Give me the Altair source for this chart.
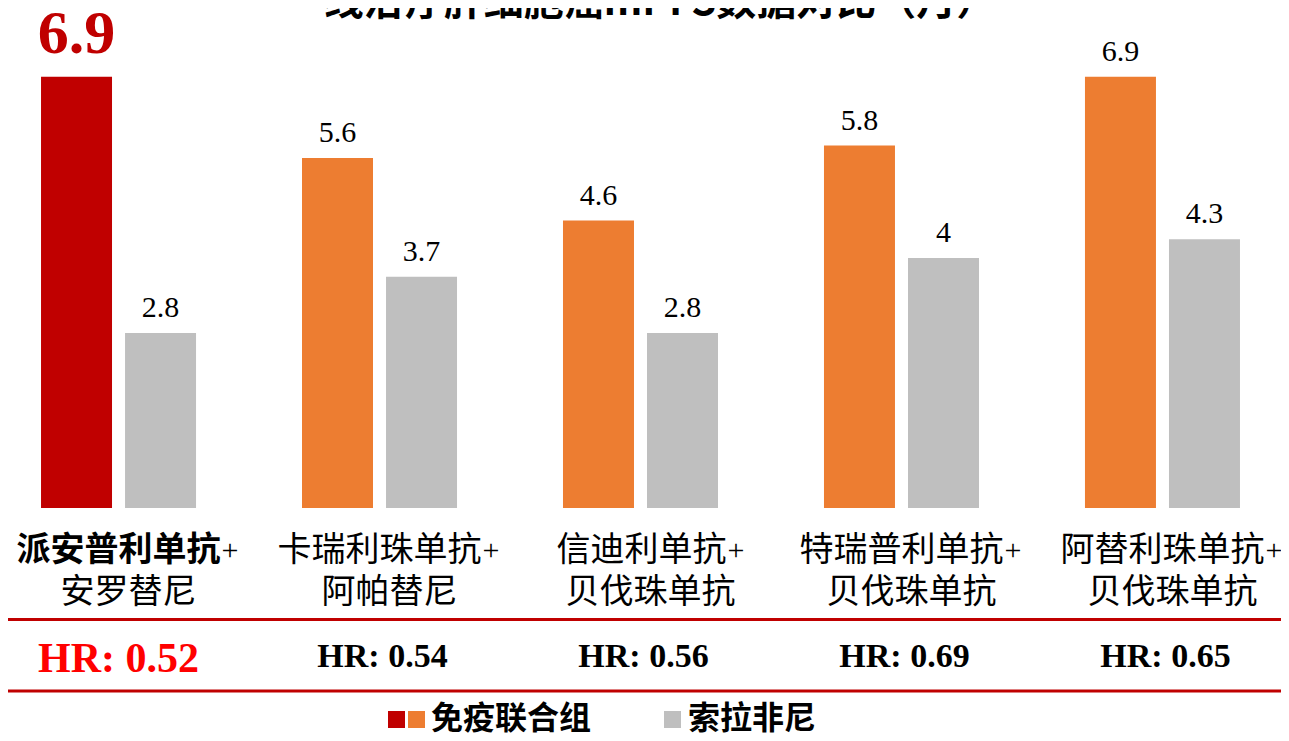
import altair as alt
import pandas as pd

# ---- data ----
groups = ["派安普利单抗+安罗替尼", "卡瑞利珠单抗+阿帕替尼", "信迪利单抗+贝伐珠单抗",
          "特瑞普利单抗+贝伐珠单抗", "阿替利珠单抗+贝伐珠单抗"]
label_line1 = ["派安普利单抗", "卡瑞利珠单抗", "信迪利单抗", "特瑞普利单抗", "阿替利珠单抗"]
label_joiner = "+"
label_line2 = ["安罗替尼", "阿帕替尼", "贝伐珠单抗", "贝伐珠单抗", "贝伐珠单抗"]
immune_pfs = [6.9, 5.6, 4.6, 5.8, 6.9]
sorafenib_pfs = [2.8, 3.7, 2.8, 4.0, 4.3]
hr_values = ["0.52", "0.54", "0.56", "0.69", "0.65"]
highlight = [True, False, False, False, False]
series_names = ["免疫联合组", "索拉非尼"]
title_text = "一线治疗肝细胞癌mPFS数据对比（月）"

RED = "#C00000"
ORANGE = "#ED7D31"
GRAY = "#BFBFBF"
CJK = "Noto Sans CJK SC"
SERIF = "Liberation Serif"

rows = []
for g, v1, v2, h in zip(groups, immune_pfs, sorafenib_pfs, highlight):
    rows.append(dict(group=g, series=series_names[0], value=v1,
                     color=RED if h else ORANGE, label=f"{v1:g}", hl=h))
    rows.append(dict(group=g, series=series_names[1], value=v2,
                     color=GRAY, label=f"{v2:g}", hl=False))
bars_df = pd.DataFrame(rows)

cat_df = pd.DataFrame(dict(group=groups, l1=label_line1, l2=label_line2,
                           plus=[label_joiner] * len(groups),
                           hr=["HR: " + h for h in hr_values], hl=highlight))
one = pd.DataFrame({"k": [0]})

x_enc = alt.X("group:N", sort=groups, axis=None,
              scale=alt.Scale(paddingInner=0.153, paddingOuter=0))
xoff = alt.XOffset("series:N", sort=series_names,
                   scale=alt.Scale(paddingInner=0.155, paddingOuter=0.393))
y_enc = alt.Y("value:Q", axis=None, scale=alt.Scale(domain=[0, 8]))

bars = alt.Chart(bars_df).mark_bar().encode(
    x=x_enc, xOffset=xoff, y=y_enc, color=alt.Color("color:N", scale=None))

labels = alt.Chart(bars_df).transform_filter("!datum.hl").mark_text(
    font=SERIF, fontSize=30, dy=-16, baseline="alphabetic", color="#000000"
).encode(x=x_enc, xOffset=xoff, y=y_enc, text="label:N")

big_label = alt.Chart(bars_df).transform_filter("datum.hl").mark_text(
    font=SERIF, fontSize=62, fontWeight="bold", dy=-24, baseline="alphabetic", color=RED
).encode(x=x_enc, xOffset=xoff, y=y_enc, text="label:N")

cat_base = alt.Chart(cat_df).transform_calculate(n="length(datum.l1)")

def line1(filter_expr, weight, dx):
    return cat_base.transform_filter(filter_expr).mark_text(
        font=CJK, fontSize=34, fontWeight=weight, dx=dx, align="left",
        baseline="alphabetic", color="#000000"
    ).encode(x=x_enc, y=alt.value(553), text="l1:N")

def plus(filter_expr, dx):
    return cat_base.transform_filter(filter_expr).mark_text(
        font=SERIF, fontSize=30, dx=dx, align="left",
        baseline="alphabetic", color="#000000"
    ).encode(x=x_enc, y=alt.value(552), text="plus:N")

cat1_bold = line1("datum.hl", "bold", -102)
cat1_six = line1("!datum.hl && datum.n == 6", "normal", -102)
cat1_five = line1("!datum.hl && datum.n == 5", "normal", -84)
plus_six = plus("datum.n == 6", 103)
plus_five = plus("datum.n == 5", 87)

cat2 = alt.Chart(cat_df).mark_text(
    font=CJK, fontSize=34, dx=10, baseline="alphabetic", color="#000000"
).encode(x=x_enc, y=alt.value(595), text="l2:N")

hr_red = alt.Chart(cat_df).transform_filter("datum.hl").mark_text(
    font=SERIF, fontSize=42, fontWeight="bold", baseline="alphabetic", color="#FF0000"
).encode(x=x_enc, y=alt.value(664), text="hr:N")
hr_black = alt.Chart(cat_df).transform_filter("!datum.hl").mark_text(
    font=SERIF, fontSize=34, fontWeight="bold", dx=3, baseline="alphabetic", color="#000000"
).encode(x=x_enc, y=alt.value(659), text="hr:N")

rule1 = alt.Chart(one).mark_rule(color=RED, strokeWidth=3).encode(
    x=alt.value(0), x2=alt.value(1273), y=alt.value(611.5))
rule2 = alt.Chart(one).mark_rule(color=RED, strokeWidth=3).encode(
    x=alt.value(0), x2=alt.value(1273), y=alt.value(683))

title = alt.Chart(one).mark_text(
    font=CJK, fontSize=40, fontWeight="bold", baseline="alphabetic", align="center",
    color="#000000", text=title_text
).encode(x=alt.value(632), y=alt.value(7))

sq_red = alt.Chart(one).mark_rect(color=RED).encode(
    x=alt.value(380), x2=alt.value(397), y=alt.value(703), y2=alt.value(720))
sq_orange = alt.Chart(one).mark_rect(color=ORANGE).encode(
    x=alt.value(400), x2=alt.value(417), y=alt.value(703), y2=alt.value(720))
sq_gray = alt.Chart(one).mark_rect(color=GRAY).encode(
    x=alt.value(656), x2=alt.value(673), y=alt.value(703), y2=alt.value(720))
leg1 = alt.Chart(one).mark_text(
    font=CJK, fontSize=32, fontWeight="bold", align="left", baseline="alphabetic",
    color="#000000", text=series_names[0]
).encode(x=alt.value(423), y=alt.value(721))
leg2 = alt.Chart(one).mark_text(
    font=CJK, fontSize=32, fontWeight="bold", align="left", baseline="alphabetic",
    color="#000000", text=series_names[1]
).encode(x=alt.value(680), y=alt.value(721))

chart = alt.layer(
    bars, labels, big_label, cat1_bold, cat1_six, cat1_five, plus_six, plus_five,
    cat2, hr_red, hr_black, rule1, rule2, title,
    sq_red, sq_orange, sq_gray, leg1, leg2
).properties(
    width=1265, height=500,
    autosize=alt.AutoSizeParams(type="none"),
    padding={"left": 0, "top": 0, "right": 8, "bottom": 225},
).configure_view(stroke=None)

chart.save("out.html", embed_options={"renderer": "svg", "actions": False})
